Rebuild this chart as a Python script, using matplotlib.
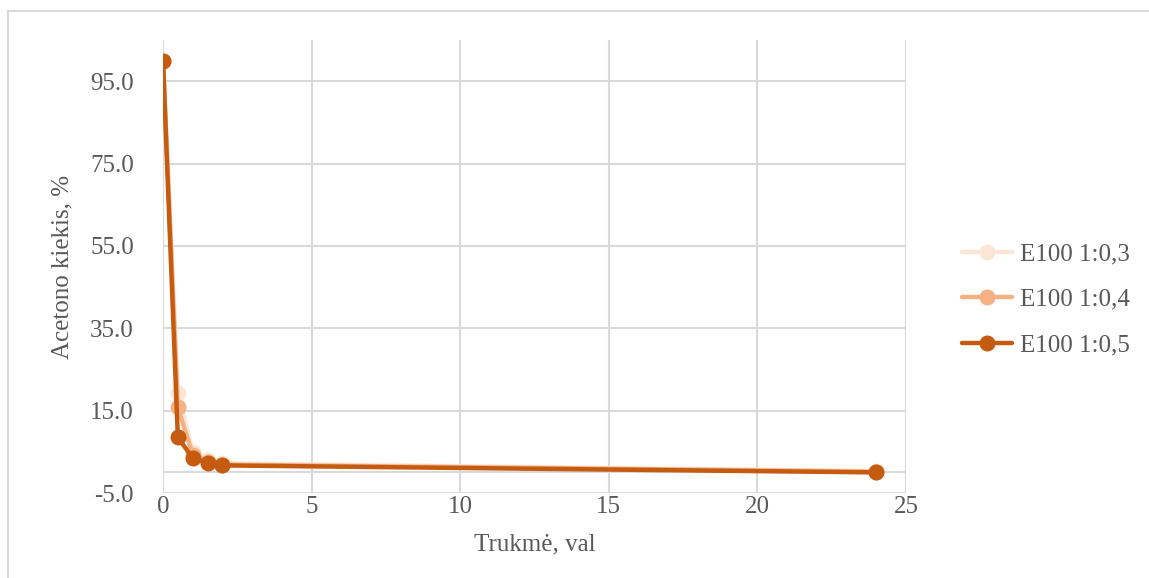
import matplotlib
matplotlib.use("Agg")
import matplotlib.pyplot as plt
from matplotlib.patches import Rectangle

# Data
time_h = [0, 0.5, 1, 1.5, 2, 24]
e100_03 = [100, 19.3, 5.0, 3.0, 2.2, 0.3]
e100_04 = [100, 15.8, 4.3, 2.6, 1.9, 0.2]
e100_05 = [100, 8.5, 3.5, 2.3, 1.7, 0.0]
series_names = ["E100 1:0,3", "E100 1:0,4", "E100 1:0,5"]
series_colors = ["#FBE5D6", "#F4B183", "#C55A11"]
x_ticks = [0, 5, 10, 15, 20, 25]
y_ticks = [-5, 15, 35, 55, 75, 95]

plt.rcParams['font.family'] = ['Liberation Serif', 'DejaVu Serif']
text_color = "#595959"
grid_color = "#D9D9D9"

fig = plt.figure(figsize=(11.49, 5.78), dpi=100)
ax = fig.add_axes([163/1149, 1-493/578, (906-163)/1149, (493-40)/578])

ax.set_xlim(0, 25)
ax.set_ylim(-5, 105)

for xt in x_ticks:
    ax.axvline(xt, color=grid_color, lw=1.5, zorder=0)
for yt in y_ticks:
    ax.axhline(yt, color=grid_color, lw=1.5, zorder=0)
ax.axhline(0, color=grid_color, lw=1.5, zorder=0)

for vals, name, col in zip([e100_03, e100_04, e100_05], series_names, series_colors):
    ax.plot(time_h, vals, color=col, lw=3.2, marker='o', markersize=11.5,
            markeredgewidth=0, label=name, solid_capstyle='round', zorder=3)

for s in ax.spines.values():
    s.set_visible(False)

ax.set_xticks(x_ticks)
ax.set_xticklabels([str(v) for v in x_ticks])
ax.set_yticks(y_ticks)
ax.set_yticklabels([f"{v:.1f}" for v in y_ticks])
ax.tick_params(axis='both', length=0, labelsize=18, labelcolor=text_color)
ax.tick_params(axis='y', pad=21)
ax.tick_params(axis='x', pad=2)

ax.set_xlabel("Trukmė, val", fontsize=18, color=text_color, labelpad=11)
ax.set_ylabel("Acetono kiekis, %", fontsize=18, color=text_color, labelpad=12)

leg = ax.legend(loc='center left', bbox_to_anchor=(952/1149, 1-299.5/578),
                bbox_transform=fig.transFigure, frameon=False, fontsize=18,
                handlelength=2.0, handletextpad=0.3, labelspacing=0.92,
                borderaxespad=0, borderpad=0.4,
                labelcolor=text_color)

fig.patches.append(Rectangle((8/1149, -0.1), 1.2, 1-11/578+0.1, transform=fig.transFigure,
                             fill=False, edgecolor="#D9D9D9", lw=1.5))

fig.savefig("out.png", dpi=100)
